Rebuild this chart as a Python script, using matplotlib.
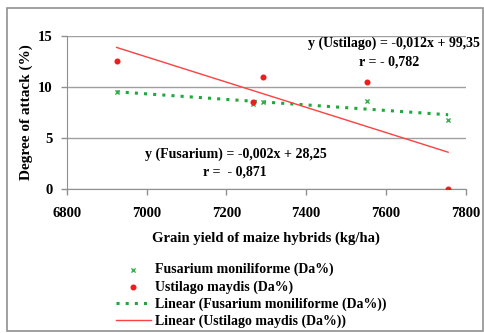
import numpy as np
import matplotlib
matplotlib.use("Agg")
import matplotlib.pyplot as plt
from matplotlib.patches import Rectangle

yield_kg_ha = [6925, 7268, 7292, 7553, 7756]
fusarium = [9.5, 8.3, 8.5, 8.6, 6.8]
ustilago = [12.5, 8.5, 11.0, 10.5, 0.0]
x_ticks = [6800, 7000, 7200, 7400, 7600, 7800]
y_ticks = [0, 5, 10, 15]

plt.rcParams['font.family'] = ['Liberation Serif', 'DejaVu Serif']
plt.rcParams['font.weight'] = 'bold'

fig = plt.figure(figsize=(4.85, 3.33), dpi=100)
fig.patches.append(Rectangle((7/485, 1 - 331/333), 476/485, 323/333, transform=fig.transFigure,
                             fill=False, edgecolor='#909090', linewidth=1.2))
ax = fig.add_axes([66.7/485, 1 - 189/333, 399/485, 153.3/333])

xs = np.array(yield_kg_ha, dtype=float)
cf = np.polyfit(xs, fusarium, 1)
cu = np.polyfit(xs, ustilago, 1)
xl = np.array([xs.min(), xs.max()])

ax.scatter(xs, fusarium, marker='x', s=9, color='#33b24a', linewidths=1, zorder=3,
           label='Fusarium moniliforme (Da%)')
ax.scatter(xs, ustilago, marker='o', s=11, color='#ee1c1c', zorder=3,
           label='Ustilago maydis (Da%)')
ax.plot(xl, np.polyval(cf, xl), color='#1fa83c', linestyle=(0, (1, 2)), linewidth=2.2,
        label='Linear (Fusarium moniliforme (Da%))')
ax.plot(xl, np.polyval(cu, xl), color='#ff4040', linewidth=1.0,
        label='Linear (Ustilago maydis (Da%))')

ax.set_xlim(6800, 7800)
ax.set_ylim(0, 15)
ax.set_xticks(x_ticks)
ax.set_yticks(y_ticks)
ax.tick_params(labelsize=10.5, colors='black', length=4, width=1)
ax.tick_params(axis='both', color='#909090')
ax.tick_params(axis='x', pad=9)
ax.tick_params(axis='y', pad=6)
ax.grid(axis='y', color='#a0a0a0', linewidth=1)
ax.set_axisbelow(True)
for s in ['top', 'right']:
    ax.spines[s].set_visible(False)
for s in ['left', 'bottom']:
    ax.spines[s].set_color('#909090')
ax.set_xlabel('Grain yield of maize hybrids (kg/ha)', fontsize=10.5, fontweight='bold', labelpad=8)
ax.set_ylabel('Degree of attack (%)', fontsize=11, fontweight='bold', labelpad=4)

ax.text(1.036, 0.952, 'y (Ustilago) = -0,012x + 99,35', transform=ax.transAxes, ha='right',
        va='center', fontsize=10, fontweight='bold')
ax.text(0.808, 0.828, 'r = - 0,782', transform=ax.transAxes, ha='center',
        va='center', fontsize=10, fontweight='bold')
ax.text(0.424, 0.228, 'y (Fusarium) = -0,002x + 28,25', transform=ax.transAxes, ha='center',
        va='center', fontsize=10, fontweight='bold')
ax.text(0.422, 0.111, 'r =  - 0,871', transform=ax.transAxes, ha='center',
        va='center', fontsize=10, fontweight='bold')

leg = fig.legend(loc='upper left', bbox_to_anchor=(116/485, 1 - 263/333), frameon=False,
                 fontsize=10, handlelength=2.5, handletextpad=0.3, labelspacing=0.26,
                 borderpad=0, borderaxespad=0)
for t in leg.get_texts():
    t.set_fontweight('bold')

fig.savefig('out.png', dpi=100)
